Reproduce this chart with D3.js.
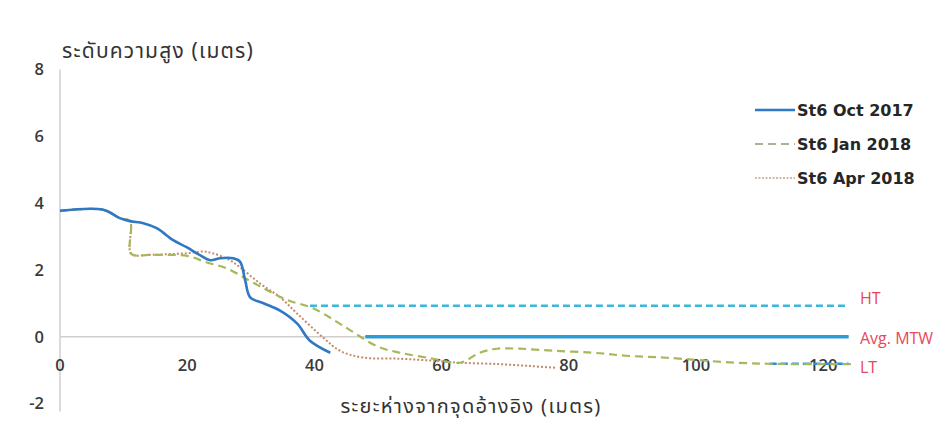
<!DOCTYPE html>
<html>
<head>
<meta charset="utf-8">
<script src="https://cdn.jsdelivr.net/npm/d3@7"></script>
<style>
  html, body { margin: 0; padding: 0; background: #fff; }
  svg { display: block; }
</style>
</head>
<body>
<svg id="chart" width="944" height="425"></svg>
<script>
// Beach profile, station St6: distance from reference point (m) vs elevation (m)
const octX = [0, 6.8, 9.4, 11, 13.1, 15.2, 17.8, 19.9, 22, 23.6, 25.2, 27.2, 28.3, 29.1, 29.9, 32, 34.6, 37.3, 39.3, 42.5];
const octY = [3.77, 3.8, 3.55, 3.46, 3.4, 3.25, 2.89, 2.68, 2.44, 2.29, 2.35, 2.35, 2.25, 1.7, 1.18, 1.0, 0.78, 0.39, -0.12, -0.48];

const janX = [0, 6.8, 9.4, 11, 11.2, 14, 17, 20, 23, 26.2, 29.4, 32.5, 35.7, 39.8, 44.5, 50, 53.5, 58.7, 62.9, 66, 68.7, 72.3, 77.5, 83.8, 89, 95.4, 106.4, 115, 124.5];
const janY = [3.77, 3.8, 3.55, 3.46, 2.48, 2.45, 2.45, 2.42, 2.23, 2.05, 1.72, 1.4, 1.1, 0.85, 0.33, -0.3, -0.48, -0.66, -0.78, -0.48, -0.36, -0.36, -0.42, -0.48, -0.57, -0.63, -0.78, -0.82, -0.82];

const aprX = [0, 6.8, 9.4, 11, 11.2, 14, 17, 20, 22.5, 24, 26.7, 28.3, 31.4, 34.6, 37.3, 41.4, 44, 47.5, 53.5, 58.7, 63, 69, 74, 78];
const aprY = [3.77, 3.8, 3.55, 3.46, 2.48, 2.45, 2.47, 2.5, 2.55, 2.5, 2.29, 2.08, 1.6, 1.18, 0.69, -0.03, -0.42, -0.62, -0.66, -0.72, -0.78, -0.82, -0.88, -0.93];

const seriesNames = ["St6 Oct 2017", "St6 Jan 2018", "St6 Apr 2018"];

// Tide reference levels (m) and where each line begins along the profile
const tideNames = ["HT", "Avg. MTW", "LT"];
const tideValues = [0.93, 0, -0.81];
const tideStart = [39.3, 48, 111.6];
const tideEnd = 124;

const xTicks = [0, 20, 40, 60, 80, 100, 120];
const yTicks = [-2, 0, 2, 4, 6, 8];

const yTitle = "ระดับความสูง (เมตร)";
const xTitle = "ระยะห่างจากจุดอ้างอิง (เมตร)";

const svg = d3.select("#chart");
const thaiFont = "'Noto Sans Thai', 'Noto Sans', 'DejaVu Sans', sans-serif";
const numFont = "'Open Sans', 'Noto Sans', sans-serif";
const legendFont = "'DejaVu Sans', 'Open Sans', sans-serif";

const x = d3.scaleLinear().domain([0, 125]).range([60, 855]);
const y = d3.scaleLinear().domain([-2, 8]).range([403.5, 69.5]);

// axes: vertical at x = 0, horizontal at y = 0
svg.append("line")
  .attr("x1", x(0)).attr("x2", x(0))
  .attr("y1", y(8)).attr("y2", y(-2) + 8)
  .attr("stroke", "#cfcfcf").attr("stroke-width", 1.5);
svg.append("line")
  .attr("x1", x(0)).attr("x2", x(tideEnd))
  .attr("y1", y(0)).attr("y2", y(0))
  .attr("stroke", "#cfcfcf").attr("stroke-width", 1.5);

// tick labels
svg.append("g").selectAll("text").data(yTicks).join("text")
  .attr("x", 44).attr("y", d => y(d)).attr("dy", "0.36em")
  .attr("text-anchor", "end")
  .attr("font-family", numFont).attr("font-size", 16.5).attr("font-weight", 600)
  .attr("fill", "#3a3a3a").text(d => d);

svg.append("g").selectAll("text").data(xTicks).join("text")
  .attr("x", d => x(d)).attr("y", y(0) + 28).attr("dy", "0.36em")
  .attr("text-anchor", "middle")
  .attr("font-family", numFont).attr("font-size", 16.5).attr("font-weight", 600)
  .attr("fill", "#3a3a3a").text(d => d);

// tide levels
const tideStyles = [
  { color: "#3bb7dc", dash: "7,4", width: 2.5 },
  { color: "#2e9bd6", dash: null, width: 3.5 },
  { color: "#2f8fd4", dash: "7,4", width: 2.5 }
];
tideValues.forEach((v, i) => {
  svg.append("line")
    .attr("x1", x(tideStart[i])).attr("x2", x(tideEnd))
    .attr("y1", y(v)).attr("y2", y(v))
    .attr("stroke", tideStyles[i].color)
    .attr("stroke-width", tideStyles[i].width)
    .attr("stroke-dasharray", tideStyles[i].dash);
});

// profile lines
const line = d3.line().x(d => x(d[0])).y(d => y(d[1])).curve(d3.curveCatmullRom.alpha(0.5));
const profiles = [
  { xs: aprX, ys: aprY, color: "#c48a6c", dash: "2,2", width: 2 },
  { xs: janX, ys: janY, color: "#a6b85a", dash: "8,5", width: 2.2 },
  { xs: octX, ys: octY, color: "#2e78c4", dash: null, width: 2.6 }
];
profiles.forEach(p => {
  svg.append("path")
    .datum(d3.zip(p.xs, p.ys))
    .attr("d", line)
    .attr("fill", "none")
    .attr("stroke", p.color)
    .attr("stroke-width", p.width)
    .attr("stroke-dasharray", p.dash);
});

// tide labels
svg.append("g").selectAll("text").data(tideNames).join("text")
  .attr("x", 860).attr("y", (d, i) => y(tideValues[i]) + (i === 2 ? 3 : i === 0 ? -7 : 2))
  .attr("dy", "0.36em")
  .attr("font-family", numFont).attr("font-size", 16)
  .attr("fill", "#e8475a").text(d => d);

// legend
const legendStyles = [
  { color: "#2e78c4", dash: null, width: 2.4 },
  { color: "#8f9a78", dash: "8,5", width: 1.6 },
  { color: "#b9a48f", dash: "2,1.5", width: 1.6 }
];
const leg = svg.append("g");
seriesNames.forEach((name, i) => {
  const ly = 110 + i * 34;
  leg.append("line")
    .attr("x1", 755).attr("x2", 795).attr("y1", ly).attr("y2", ly)
    .attr("stroke", legendStyles[i].color)
    .attr("stroke-width", legendStyles[i].width)
    .attr("stroke-dasharray", legendStyles[i].dash);
  leg.append("text")
    .attr("x", 797).attr("y", ly).attr("dy", "0.36em")
    .attr("font-family", legendFont).attr("font-weight", 700).attr("font-size", 16)
    .attr("fill", "#262626").text(name);
});

// axis titles
svg.append("text")
  .attr("x", 62).attr("y", 50).attr("dy", "0.36em")
  .attr("font-family", thaiFont).attr("font-size", 21).attr("letter-spacing", 1.2)
  .attr("fill", "#333").text(yTitle);
svg.append("text")
  .attr("x", 471).attr("y", 406).attr("dy", "0.36em")
  .attr("text-anchor", "middle")
  .attr("font-family", thaiFont).attr("font-size", 20).attr("letter-spacing", 1.3)
  .attr("fill", "#333").text(xTitle);
</script>
</body>
</html>
